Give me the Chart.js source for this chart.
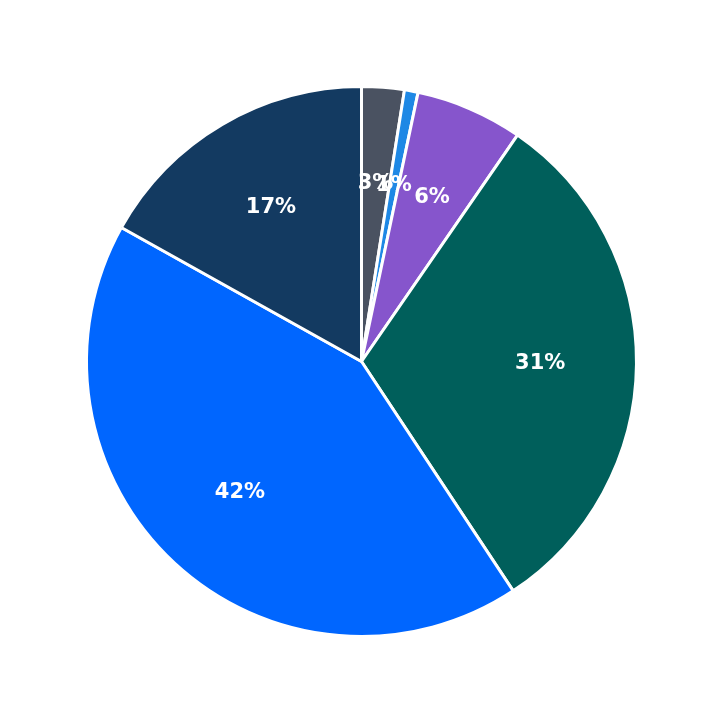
<!DOCTYPE html>
<html>
<head>
<meta charset="utf-8">
<script src="https://cdn.jsdelivr.net/npm/chart.js@4"></script>
<style>
  html, body { margin: 0; padding: 0; background: #fff; }
  #wrap { width: 723px; height: 723px; }
</style>
</head>
<body>
<div id="wrap"><canvas id="pie"></canvas></div>
<script>
// Slice data, clockwise from 12 o'clock
const categories = ['A', 'B', 'C', 'D', 'E', 'F'];
const values = [2.5, 0.8, 6.3, 31.1, 42.4, 16.9];
const colors = ['#4a5261', '#1e88e5', '#8655cc', '#005f5b', '#0066ff', '#133a61'];

// Percentage labels drawn inside each slice
const labelPlugin = {
  id: 'pctLabels',
  afterDatasetsDraw(chart) {
    const ctx = chart.ctx;
    const meta = chart.getDatasetMeta(0);
    const total = values.reduce((a, b) => a + b, 0);
    ctx.save();
    ctx.fillStyle = '#fff';
    ctx.font = 'bold 21px "DejaVu Sans"';
    ctx.textAlign = 'center';
    ctx.textBaseline = 'middle';
    meta.data.forEach((arc, i) => {
      const mid = (arc.startAngle + arc.endAngle) / 2;
      const r = arc.outerRadius * 0.65;
      const x = arc.x + Math.cos(mid) * r;
      const y = arc.y + Math.sin(mid) * r;
      ctx.fillText(Math.round(values[i] / total * 100) + '%', x, y);
    });
    ctx.restore();
  }
};

new Chart(document.getElementById('pie'), {
  type: 'pie',
  data: {
    labels: categories,
    datasets: [{
      data: values,
      backgroundColor: colors,
      borderColor: '#fff',
      borderWidth: 3
    }]
  },
  options: {
    responsive: true,
    maintainAspectRatio: false,
    animation: false,
    layout: { padding: 85 },
    plugins: { legend: { display: false }, tooltip: { enabled: false } }
  },
  plugins: [labelPlugin]
});
</script>
</body>
</html>
